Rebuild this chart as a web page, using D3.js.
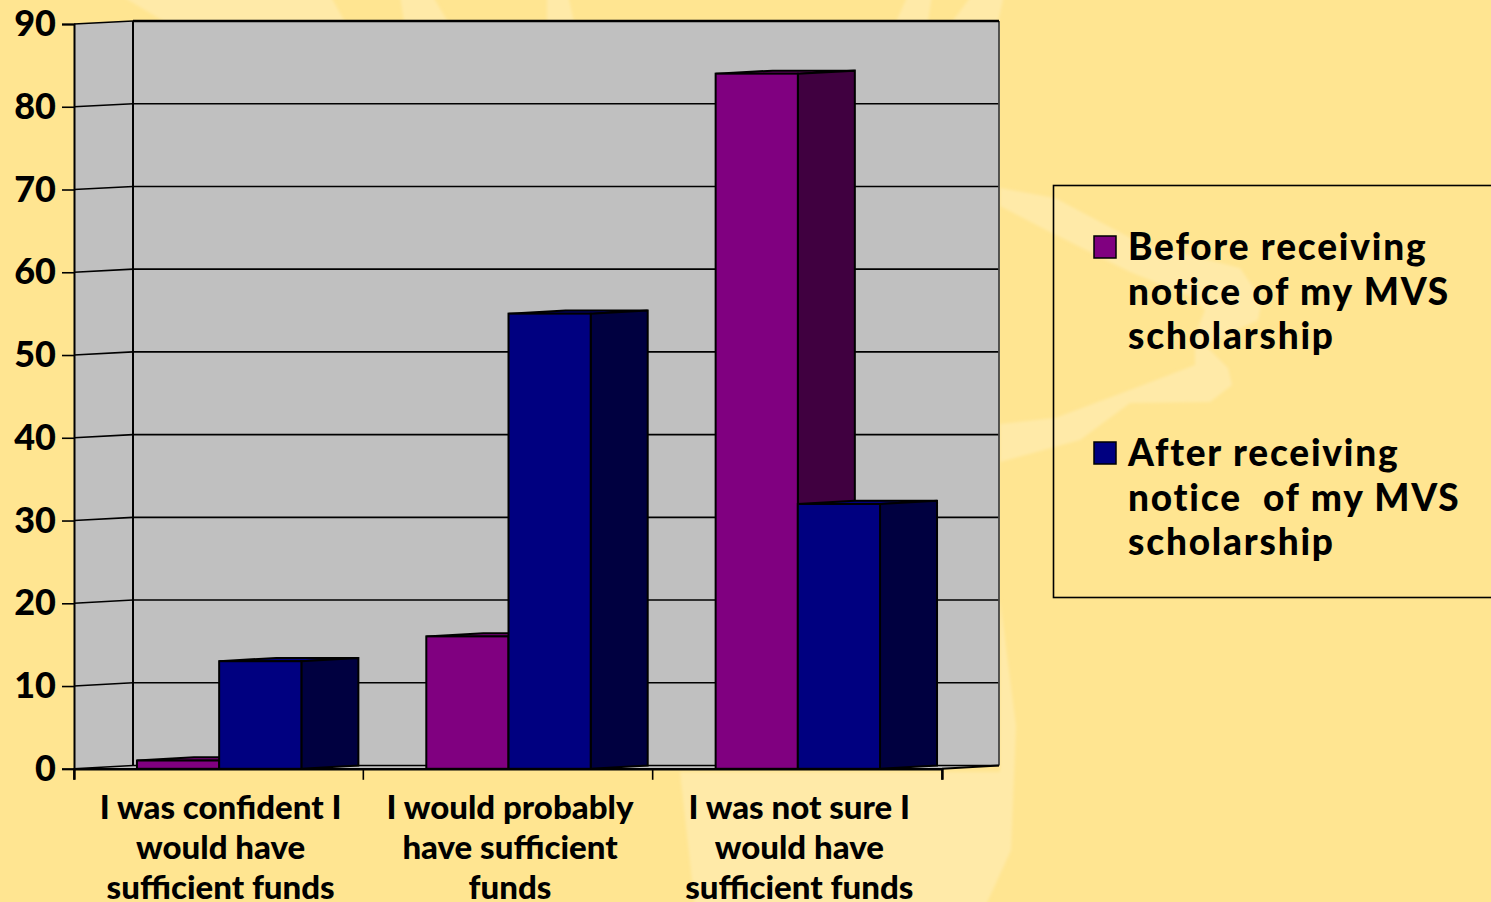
<!DOCTYPE html>
<html>
<head>
<meta charset="utf-8">
<script src="https://cdn.jsdelivr.net/npm/d3@7"></script>
<style>
  html, body { margin: 0; padding: 0; background: #ffe591; overflow: hidden; }
  text { font-family: "Lato", sans-serif; font-weight: 900; fill: #000; }
</style>
</head>
<body>
<script>
const categories = [
  ['I was confident I', 'would have', 'sufficient funds'],
  ['I would probably', 'have sufficient', 'funds'],
  ['I was not sure I', 'would have', 'sufficient funds']
];
const seriesNames = ['before', 'after'];
const beforeValues = [1, 16, 84];
const afterValues = [13, 55, 32];
const yTicks = [0, 10, 20, 30, 40, 50, 60, 70, 80, 90];
const legendBefore = ['Before receiving', 'notice of my MVS', 'scholarship'];
const legendAfter = ['After receiving', 'notice  of my MVS', 'scholarship'];

const width = 1491;
const height = 902;
const barDepth = 57;
const colors = { before: '#800080', after: '#000080' };
const sideColors = { before: '#400040', after: '#000040' };

const svg = d3.select('body').append('svg')
  .attr('width', width)
  .attr('height', height)
  .style('display', 'block');

svg.append('filter').attr('id', 'soft').append('feGaussianBlur').attr('stdDeviation', 1.5);

// washed out watermark behind the slide
const wash = svg.append('g').attr('fill', '#ffeaa8').attr('filter', 'url(#soft)');
[
  'M120,-5 L330,-5 L345,22 L165,22 Z',
  'M400,-5 L432,-5 L448,22 L404,22 Z',
  'M547,-5 L568,-5 L574,22 L547,22 Z',
  'M908,-5 L932,-5 L928,22 L896,22 Z',
  'M972,-5 L1004,-5 L998,22 L952,22 Z',
  'M1000,188 L1055,198 L1140,243 L1240,268 L1262,300 L1258,320 L1205,345 L1228,368 L1232,385 L1210,402 L1130,403 L1080,440 L1000,462 L1000,424 L1055,418 L1130,390 L1195,365 L1195,335 L1205,310 L1190,296 L1130,272 L1050,232 L1000,206 Z',
  'M1000,600 L1016,726 L1011,850 L985,907 L695,907 L680,772 L1000,772 Z'
].forEach(d => wash.append('path').attr('d', d));

const y = d3.scaleLinear().domain([0, 90]).range([768.8, 24]);
const yBack = d3.scaleLinear().domain([0, 90]).range([765.5, 21]);
const x = d3.scaleBand().domain(d3.range(categories.length)).range([74, 942]);
const xSeries = d3.scaleBand().domain(seriesNames).range([0.5, x.bandwidth() + 0.5]).paddingOuter(0.76);
const backLeft = 133;
const backRight = 999;

// walls and floor
const wallPts = [
  [x.range()[0], y(90)], [backLeft, yBack(90)], [backRight, yBack(90)], [backRight, yBack(0)],
  [x.range()[1], y(0)], [x.range()[0], y(0)]
];
svg.append('polygon')
  .attr('points', wallPts.join(' '))
  .attr('fill', '#c0c0c0');

const grid = svg.append('g').attr('stroke', '#000').attr('stroke-width', 1.6).attr('fill', 'none');
yTicks.forEach(t => {
  grid.append('path')
    .attr('d', d3.line()([[x.range()[0], y(t)], [backLeft, yBack(t)], [backRight, yBack(t)]]));
});
grid.append('line').attr('x1', backLeft).attr('x2', backLeft).attr('y1', yBack(90)).attr('y2', yBack(0)).attr('stroke-width', 2);
grid.append('line').attr('x1', backRight).attr('x2', backRight).attr('y1', yBack(90)).attr('y2', yBack(0)).attr('stroke', '#444').attr('stroke-width', 1.8);
grid.append('line').attr('x1', x.range()[1]).attr('x2', backRight).attr('y1', y(0)).attr('y2', yBack(0)).attr('stroke-width', 2);
grid.append('line').attr('x1', backLeft).attr('x2', backRight).attr('y1', yBack(90)).attr('y2', yBack(90)).attr('stroke-width', 2.4);

// bars, one series after the other so the front one overlaps the side of the previous
const rows = [];
categories.forEach((c, i) => {
  rows.push({ cat: i, key: 'before', value: beforeValues[i] });
  rows.push({ cat: i, key: 'after', value: afterValues[i] });
});
const bars = svg.selectAll('g.bar').data(rows).enter().append('g')
  .attr('class', 'bar')
  .attr('stroke', '#000')
  .attr('stroke-width', 2)
  .attr('stroke-linejoin', 'miter');
const left = d => x(d.cat) + xSeries(d.key);
const right = d => left(d) + xSeries.bandwidth();
bars.append('polygon')
  .attr('fill', d => colors[d.key])
  .attr('points', d => [
    [left(d), y(d.value)], [left(d) + barDepth, yBack(d.value)],
    [right(d) + barDepth, yBack(d.value)], [right(d), y(d.value)]
  ].join(' '));
bars.append('polygon')
  .attr('fill', d => sideColors[d.key])
  .attr('points', d => [
    [right(d), y(d.value)], [right(d) + barDepth, yBack(d.value)],
    [right(d) + barDepth, yBack(0)], [right(d), y(0)]
  ].join(' '));
bars.append('rect')
  .attr('x', left)
  .attr('y', d => y(d.value))
  .attr('width', xSeries.bandwidth())
  .attr('height', d => y(0) - y(d.value))
  .attr('fill', d => colors[d.key]);

// axes
const yAxis = d3.axisLeft(y).tickValues(yTicks).tickSize(12).tickPadding(6);
const yG = svg.append('g').attr('transform', `translate(${x.range()[0]},0)`).call(yAxis);
yG.selectAll('.tick line').attr('stroke', '#000').attr('stroke-width', 1.6);
yG.select('.domain').attr('stroke', '#000').attr('stroke-width', 2);
yG.selectAll('text').style('font-size', '36px').attr('fill', '#000');

const xAxis = d3.axisBottom(x).tickSize(11).tickFormat('');
const xG = svg.append('g').attr('transform', `translate(0,${y(0)})`).call(xAxis);
xG.select('.domain').attr('stroke', '#000').attr('stroke-width', 2.4);
xG.selectAll('.tick').remove();
const edges = d3.range(categories.length).map(i => x(i)).concat(x.range()[1]);
xG.selectAll('line.edge').data(edges).enter().append('line')
  .attr('class', 'edge')
  .attr('x1', d => d).attr('x2', d => d)
  .attr('y1', 0).attr('y2', 11)
  .attr('stroke', '#000').attr('stroke-width', 1.6);

const catLabels = svg.selectAll('text.cat').data(categories).enter().append('text')
  .attr('class', 'cat')
  .attr('text-anchor', 'middle')
  .style('font-size', '33px');
catLabels.selectAll('tspan').data((d, i) => d.map(line => ({ line, i }))).enter().append('tspan')
  .attr('x', d => x(d.i) + x.bandwidth() / 2 + 2)
  .attr('y', (d, j) => 819 + j * 40)
  .text(d => d.line);

// legend
const legend = svg.append('g');
legend.append('rect')
  .attr('x', 1053.5).attr('y', 185.5)
  .attr('width', 460).attr('height', 412)
  .attr('fill', 'none').attr('stroke', '#000').attr('stroke-width', 1.6);
[[legendBefore, 'before', 260], [legendAfter, 'after', 466]].forEach(([lines, key, top]) => {
  legend.append('rect')
    .attr('x', 1094).attr('y', top - 24)
    .attr('width', 22).attr('height', 22)
    .attr('fill', colors[key]).attr('stroke', '#000').attr('stroke-width', 1.5);
  legend.append('text')
    .style('font-size', '37px')
    .style('letter-spacing', '1.8px')
    .style('white-space', 'pre')
    .selectAll('tspan').data(lines).enter().append('tspan')
    .attr('x', 1128)
    .attr('y', (d, i) => top + i * 44.5)
    .text(d => d);
});
</script>
</body>
</html>
